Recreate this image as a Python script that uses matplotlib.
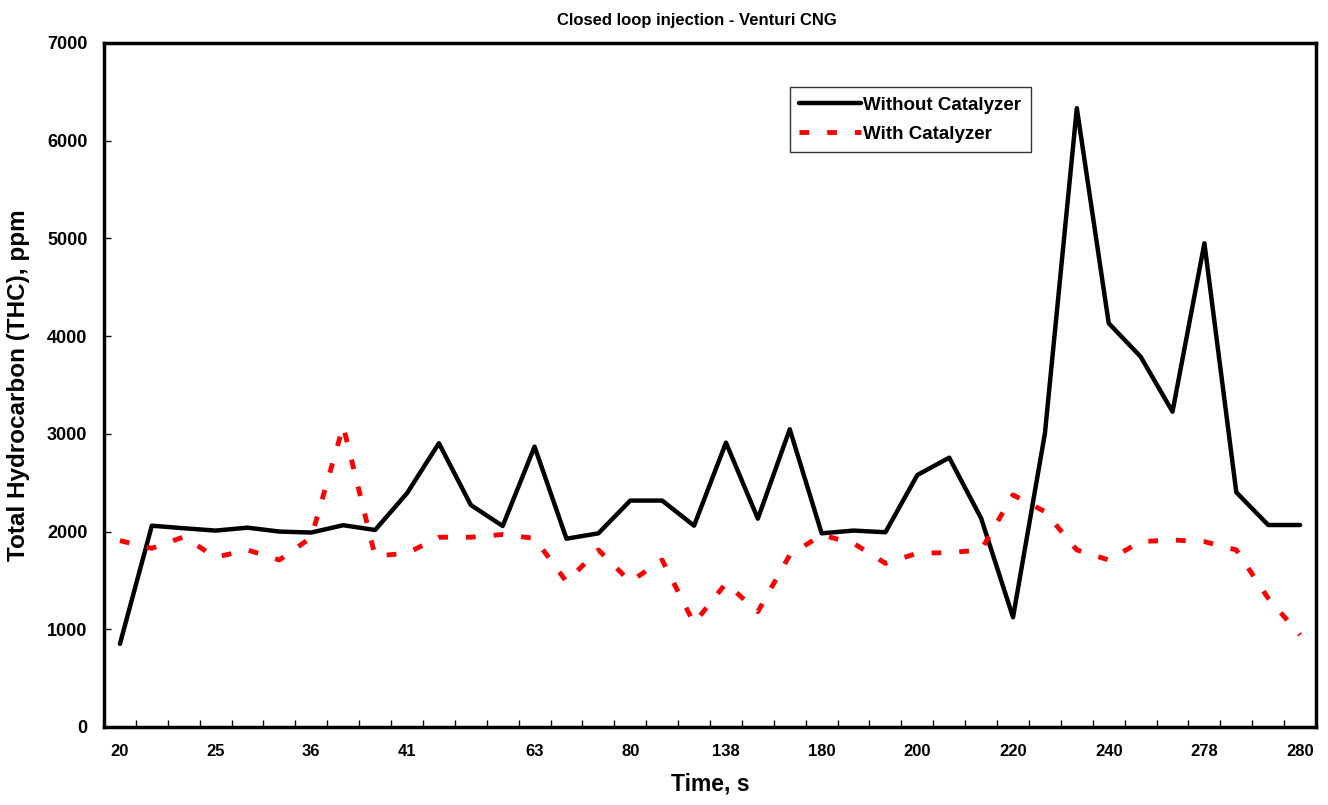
import matplotlib
matplotlib.use("Agg")
import numpy as np
import matplotlib.pyplot as plt
from matplotlib.ticker import FixedLocator, MultipleLocator

plt.rcParams['font.family'] = ['Liberation Sans', 'DejaVu Sans']
plt.rcParams['font.weight'] = 'bold'

# THC readings, ppm (one per sample)
without_cat = [850, 2060, 2034, 2010, 2040, 2000, 1990, 2065, 2016, 2392,
               2904, 2272, 2057, 2869, 1927, 1982, 2317, 2317, 2060, 2910,
               2132, 3047, 1982, 2010, 1993, 2579, 2756, 2136, 1123, 3005,
               6333, 4132, 3790, 3227, 4950, 2402, 2067, 2067]
with_cat = [1907, 1829, 1945, 1737, 1812, 1709, 1940, 3080, 1750, 1778,
            1942, 1942, 1970, 1931, 1487, 1812, 1487, 1709, 1061, 1471,
            1180, 1760, 1965, 1880, 1675, 1778, 1784, 1812, 2375, 2204,
            1812, 1709, 1897, 1914, 1897, 1812, 1317, 942]

# time labels shown on the category axis and the samples they sit under
time_labels = ['20', '25', '36', '41', '63', '80', '138', '180', '200', '220', '240', '278', '280']
label_idx = [0, 3, 6, 9, 13, 16, 19, 22, 25, 28, 31, 34, 37]

n = len(without_cat)
x = np.arange(n)

fig = plt.figure(figsize=(13.28, 8.05), dpi=100)
ax = fig.add_axes([0.0783, 0.0969, 0.9127, 0.8497])

ax.plot(x, without_cat, color='black', lw=3.2, solid_joinstyle='round',
        solid_capstyle='round', label='Without Catalyzer')
ax.plot(x, with_cat, color='red', lw=3.5, linestyle=(0, (2.0, 3.7)),
        dash_capstyle='butt', dash_joinstyle='round', label='With Catalyzer')

ax.set_xlim(-0.5, n - 0.5)
ax.set_ylim(0, 7000)

ax.xaxis.set_major_locator(FixedLocator(label_idx))
ax.set_xticklabels(time_labels)
ax.xaxis.set_minor_locator(FixedLocator(np.arange(n - 1) + 0.5))
ax.tick_params(axis='x', which='major', length=0, pad=12, labelsize=12)
ax.tick_params(axis='x', which='minor', direction='in', length=5, width=1)
ax.yaxis.set_major_locator(MultipleLocator(1000))
ax.tick_params(axis='y', direction='in', length=5, width=1, pad=12, labelsize=13)

for s in ax.spines.values():
    s.set_linewidth(2.5)

ax.set_xlabel('Time, s', fontsize=16.5, fontweight='bold', labelpad=10)
ax.set_ylabel('Total Hydrocarbon (THC), ppm', fontsize=17.5, fontweight='bold', labelpad=12)
fig.text(0.525, 0.974, 'Closed loop injection - Venturi CNG', ha='center', va='center',
         fontsize=12, fontweight='bold')

leg = ax.legend(loc='upper left', bbox_to_anchor=(790 / 1328, 1 - 87 / 805),
                bbox_transform=fig.transFigure, fontsize=13.5, frameon=True,
                fancybox=False, handlelength=3.3, handletextpad=0.1,
                borderpad=0.5, labelspacing=0.65, borderaxespad=0)
leg.get_frame().set_edgecolor('black')
leg.get_frame().set_linewidth(1)
for t in leg.get_texts():
    t.set_fontweight('bold')

plt.savefig('out.png', dpi=100)
